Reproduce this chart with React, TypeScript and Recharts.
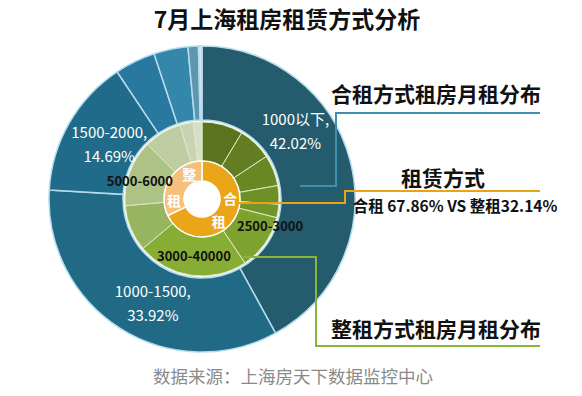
import React from "react";
import { PieChart, Pie, Cell } from "recharts";

// 合租 monthly rent distribution (outer ring)
const shareNames = ["1000以下", "1000-1500", "1500-2000", "2000-2500", "2500-3000", "3000-4000", "4000以上"];
const shareValues = [42.02, 33.92, 14.69, 4.3, 3.6, 1.1, 0.37];

// 整租 monthly rent distribution (middle ring)
const wholeNames = [
  "1000以下", "1000-1500", "1500-2000", "2000-2300", "2300-2500", "2500-3000",
  "3000-40000", "4000-5000", "5000-6000", "6000-8000", "8000-10000", "10000以上",
];
const wholeValues = [8.6, 7.1, 6.5, 3.9, 2.8, 11.7, 23.3, 9.7, 13.9, 7.9, 2.8, 1.8];

// rent type (inner ring)
const typeNames = ["合租", "整租"];
const typeValues = [67.86, 32.14];

const shareColors = ["#245b6d", "#216a86", "#1f6b89", "#2878a0", "#3486ab", "#5e96b1", "#d6e6ee"];
const wholeColors = [
  "#5a731f", "#627d22", "#688824", "#6d8f27", "#72952a", "#7ea22f",
  "#88ad35", "#97b461", "#adc285", "#bfcda2", "#c9d4b4", "#d8dfc9",
];
const typeColors = ["#eba519", "#f6c07a"];

const shareData = shareNames.map((name, i) => ({ name, value: shareValues[i] }));
const wholeData = wholeNames.map((name, i) => ({ name, value: wholeValues[i] }));
const typeData = typeNames.map((name, i) => ({ name, value: typeValues[i] }));

const FONT = "'Noto Sans CJK SC', 'Noto Sans', sans-serif";
const RAD = Math.PI / 180;
const CX = 197;
const CY = 194;

// clockwise-from-top angle -> point
function polar(cx: number, cy: number, r: number, theta: number) {
  return [cx + r * Math.sin(theta * RAD), cy - r * Math.cos(theta * RAD)];
}

// label placement tweaks: [angle shift, radius]
const shareLabelPos: Record<string, [number, number]> = {
  "1000以下": [-22, 116],
  "1000-1500": [-7, 115],
  "1500-2000": [1, 108],
};
const wholeLabelPos: Record<string, [number, number]> = {
  "2500-3000": [-14, 73],
  "3000-40000": [0, 57],
  "5000-6000": [-3, 65],
};
const typeCharShift: Record<string, number[]> = {
  合租: [-34, 21],
  整租: [31, -34],
};

function ShareLabel(p: any) {
  const name = p.payload?.name ?? p.name;
  const pos = shareLabelPos[name];
  if (!pos) return null;
  const [x, y] = polar(p.cx, p.cy, pos[1], 90 - p.midAngle + pos[0]);
  return (
    <g>
      <text x={x} y={y - 12} textAnchor="middle" dominantBaseline="central" fill="#fff" fontSize={15} fontFamily={FONT}>
        {name},
      </text>
      <text x={x} y={y + 12} textAnchor="middle" dominantBaseline="central" fill="#fff" fontSize={15} fontFamily={FONT}>
        {Number(p.value).toFixed(2)}%
      </text>
    </g>
  );
}

function WholeLabel(p: any) {
  const name = p.payload?.name ?? p.name;
  const pos = wholeLabelPos[name];
  if (!pos) return null;
  const [x, y] = polar(p.cx, p.cy, pos[1], 90 - p.midAngle + pos[0]);
  return (
    <text x={x} y={y} textAnchor="middle" dominantBaseline="central" fill="#111" fontSize={13} fontWeight="bold" fontFamily={FONT}>
      {name}
    </text>
  );
}

function TypeLabel(p: any) {
  const name: string = p.payload?.name ?? p.name;
  const shifts = typeCharShift[name] ?? [0, 0];
  return (
    <g>
      {name.split("").map((ch, i) => {
        const [x, y] = polar(p.cx, p.cy, 28, 90 - p.midAngle + shifts[i]);
        return (
          <text key={i} x={x} y={y} textAnchor="middle" dominantBaseline="central" fill="#fff" fontSize={14} fontWeight="bold" fontFamily={FONT}>
            {ch}
          </text>
        );
      })}
    </g>
  );
}

export default function App() {
  return (
    <div style={{ position: "fixed", left: 0, top: 0, width: 582, height: 396, background: "#fff" }}>
      <PieChart width={582} height={396}>
        <Pie
          data={shareData}
          dataKey="value"
          nameKey="name"
          cx={CX}
          cy={CY}
          innerRadius={79}
          outerRadius={153}
          startAngle={90}
          endAngle={-270}
          stroke="#b4dcec"
          strokeWidth={1.5}
          label={ShareLabel}
          labelLine={false}
          isAnimationActive={false}
        >
          {shareData.map((d, i) => (
            <Cell key={d.name} fill={shareColors[i]} />
          ))}
        </Pie>
        <Pie
          data={wholeData}
          dataKey="value"
          nameKey="name"
          cx={CX}
          cy={CY}
          innerRadius={38}
          outerRadius={77}
          startAngle={90}
          endAngle={-270}
          stroke="#dfe9c2"
          strokeWidth={1}
          label={WholeLabel}
          labelLine={false}
          isAnimationActive={false}
        >
          {wholeData.map((d, i) => (
            <Cell key={d.name} fill={wholeColors[i]} />
          ))}
        </Pie>
        <Pie
          data={typeData}
          dataKey="value"
          nameKey="name"
          cx={CX}
          cy={CY}
          innerRadius={18}
          outerRadius={38}
          startAngle={90}
          endAngle={-270}
          stroke="#fff"
          strokeWidth={1.5}
          label={TypeLabel}
          labelLine={false}
          isAnimationActive={false}
        >
          {typeData.map((d, i) => (
            <Cell key={d.name} fill={typeColors[i]} />
          ))}
        </Pie>
      </PieChart>
      <svg width={582} height={396} style={{ position: "absolute", left: 0, top: 0, pointerEvents: "none" }}>
        <text x={287} y={18} textAnchor="middle" dominantBaseline="central" fontSize={23} fontWeight="bold" fill="#111" fontFamily={FONT}>
          7月上海租房租赁方式分析
        </text>
        <polyline points="300,186 336,186 336,113 540,113" fill="none" stroke="#3f8fae" strokeWidth={2} />
        <polyline points="237,203 345,203 345,191 540,191" fill="none" stroke="#e8a317" strokeWidth={2} />
        <polyline points="243,257 316,257 316,346 540,346" fill="none" stroke="#8ab43a" strokeWidth={2} />
        <text x={436} y={93} textAnchor="middle" dominantBaseline="central" fontSize={21} fontWeight="bold" fill="#111" fontFamily={FONT}>
          合租方式租房月租分布
        </text>
        <text x={443} y={177} textAnchor="middle" dominantBaseline="central" fontSize={21} fontWeight="bold" fill="#111" fontFamily={FONT}>
          租赁方式
        </text>
        <text x={455} y={205} textAnchor="middle" dominantBaseline="central" fontSize={15.5} fontWeight="bold" fill="#111" fontFamily={FONT}>
          {`${typeNames[0]} ${typeValues[0]}% VS ${typeNames[1]}${typeValues[1]}%`}
        </text>
        <text x={436} y={328} textAnchor="middle" dominantBaseline="central" fontSize={21} fontWeight="bold" fill="#111" fontFamily={FONT}>
          整租方式租房月租分布
        </text>
        <text x={293} y={375} textAnchor="middle" dominantBaseline="central" fontSize={17.5} fill="#8a8a8a" fontFamily={FONT}>
          数据来源：上海房天下数据监控中心
        </text>
      </svg>
    </div>
  );
}
